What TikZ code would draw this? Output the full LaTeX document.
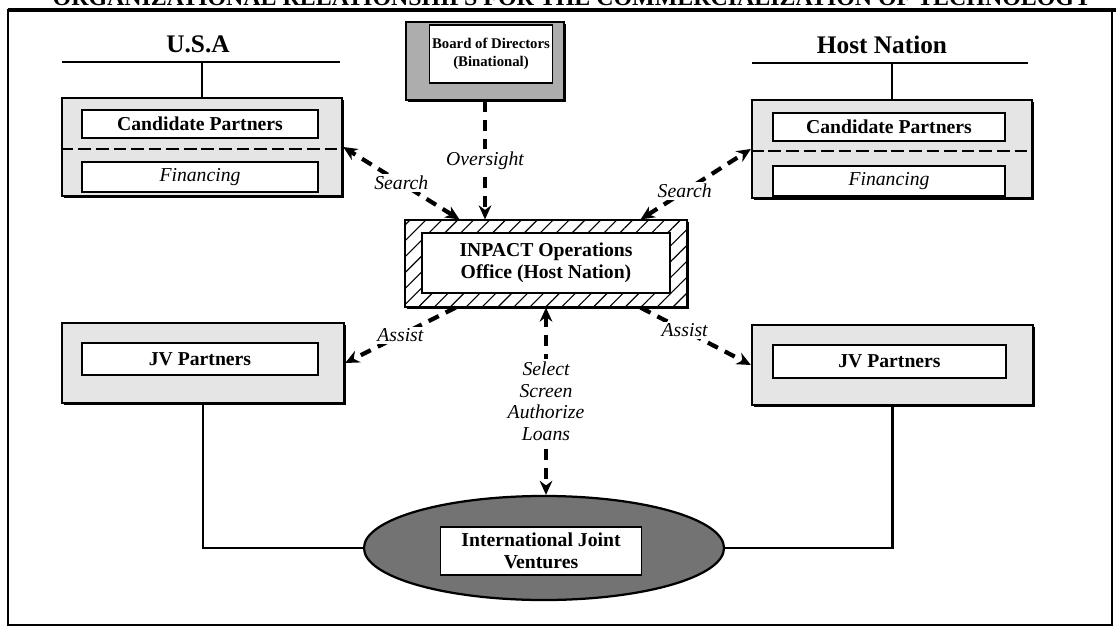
\documentclass[tikz,border=0pt]{standalone}
\usepackage{fontspec}
\setmainfont{Liberation Serif}
\usetikzlibrary{arrows.meta,shapes.geometric,patterns.meta,shadows}
\tikzset{>={Stealth[length=10pt,width=9pt]},
  outer/.style={draw,line width=1.6pt,fill=black!10,inner sep=0pt,
    drop shadow={shadow xshift=1.5pt,shadow yshift=-1.5pt,fill=black,opacity=1}},
  inner/.style={draw,line width=1.2pt,fill=white,inner sep=0pt,align=center,
    font=\fontsize{14}{16}\selectfont\bfseries},
  fin/.style={font=\fontsize{14}{16}\selectfont\itshape},
  divide/.style={line width=1.5pt,dash pattern=on 9pt off 3.5pt},
  flow/.style={line width=3pt,dash pattern=on 8pt off 5.5pt},
  lab/.style={fill=white,inner sep=1.5pt,align=center,font=\fontsize{14}{15.5}\selectfont\itshape},
  nation/.style={font=\fontsize{18}{20}\selectfont\bfseries}}
\begin{document}
\begin{tikzpicture}[x=.025cm,y=-.025cm,line width=2pt]
\useasboundingbox (0,0) rectangle (1116,630);
\begin{scope}\clip (0,0) rectangle (1116,630);
\node[anchor=base,font=\fontsize{17}{17}\selectfont\bfseries] (title) at (572,6) {ORGANIZATIONAL RELATIONSHIPS FOR THE COMMERCIALIZATION OF TECHNOLOGY};
\end{scope}
\draw[line width=1.2pt] (8,625) -- (8,10) -- (1112,10) -- (1112,625) -- cycle;
\draw[line width=2.4pt] (8,10) -- (1116,10);
% the two nations
\node[nation] (usa) at (198,44) {U.S.A};
\coordinate (ua) at (62,62);\coordinate (ub) at (340,62);
\node[nation] (host) at (882,45) {Host Nation};
\coordinate (ha) at (752,63);\coordinate (hb) at (1028,63);
\node[outer,minimum width=7cm,minimum height=2.45cm] (cpusa) at (202,147) {};
\draw[divide] (cpusa.west |- 0,149) -- (cpusa.east |- 0,149);
\node[inner,minimum width=5.9cm,minimum height=.7cm] (cpu) at (200,124) {Candidate Partners};
\node[inner,fin,minimum width=5.9cm,minimum height=.75cm] (finu) at (200,177) {Financing};
\node[outer,minimum width=7cm,minimum height=2.45cm] (cphost) at (892,149) {};
\draw[divide] (cphost.west |- 0,151) -- (cphost.east |- 0,151);
\node[inner,minimum width=5.8cm,minimum height=.7cm] (cph) at (889,127) {Candidate Partners};
\node[inner,fin,minimum width=5.8cm,minimum height=.75cm] (finh) at (889,181) {Financing};
\draw (ua) -- (ub);\draw (cpusa.north) -- (cpusa.north |- ua);
\draw (ha) -- (hb);\draw (cphost.north) -- (cphost.north |- ha);
% board and operations office
\node[outer,fill=black!32,minimum width=3.95cm,minimum height=1.95cm] (board) at (485,61) {};
\node[inner,font=\fontsize{10.5}{13}\selectfont\bfseries,minimum width=3.08cm,minimum height=1.45cm] (bd) at (491,54) {Board of Directors\\(Binational)};
\node[outer,preaction={fill=white},pattern={Lines[angle=45,distance=8pt,line width=.8pt]},minimum width=7.05cm,minimum height=2.175cm] (ops) at (546,263.5) {};
\node[inner,minimum width=6.2cm,minimum height=1.5cm] (opsin) at (546,263) {INPACT Operations\\Office (Host Nation)};
% joint venture partners
\node[outer,minimum width=7.05cm,minimum height=2cm] (jvusa) at (203,363) {};
\node[inner,minimum width=5.9cm,minimum height=.8cm] (jvu) at (200,359) {JV Partners};
\node[outer,minimum width=7.025cm,minimum height=2cm] (jvhost) at (892.5,365) {};
\node[inner,minimum width=5.825cm,minimum height=.825cm] (jvh) at (889.5,361.5) {JV Partners};
\node[ellipse,draw,line width=1.6pt,fill=black!55,minimum width=9cm,minimum height=2.6cm] (ijv) at (544,548) {};
\node[inner,minimum width=5.025cm,minimum height=1.2cm] (ijvin) at (541,551) {International Joint\\Ventures};
\draw (jvusa.south) |- (ijv.west);\draw (jvhost.south) |- (ijv.east);
% flows
\draw[flow,->] (board.south) -- node[lab] {Oversight} (board.south |- ops.north);
\draw[flow,<->] (ops.153) -- node[lab] {Search} (cpusa.east);
\draw[flow,<->] (ops.25) -- node[lab,pos=.4] {Search} (cphost.west);
\draw[flow,->] (ops.206) -- node[lab] {Assist} (jvusa.east);
\draw[flow,->] (ops.335) -- node[lab,pos=.4] {Assist} (jvhost.west);
\draw[flow,<->] (ops.south) -- node[lab] {Select\\Screen\\Authorize\\Loans} (ops.south |- ijv.north);
\end{tikzpicture}
\end{document}
